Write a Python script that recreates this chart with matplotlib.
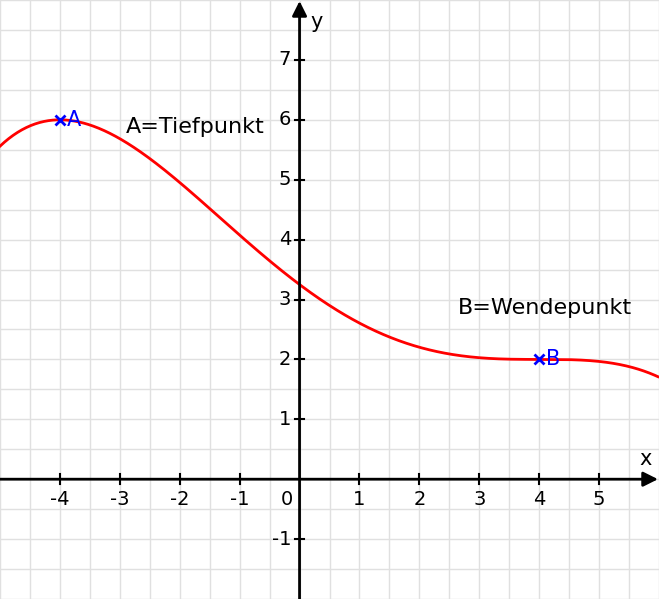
import numpy as np
import matplotlib.pyplot as plt

# f(x) as polynomial coefficients (highest power first):
# maximum at (-4, 6), saddle / Wendepunkt at (4, 2)
coeffs = [-3 / 1024, 1 / 64, 3 / 32, -0.75, 3.25]

# special points
point_names = ["A", "B"]
point_x = [-4, 4]
point_y = [6, 2]

# annotations
notes = ["A=Tiefpunkt", "B=Wendepunkt"]
note_x = [-2.9, 2.65]
note_y = [5.88, 2.85]

x_ticks = [-4, -3, -2, -1, 1, 2, 3, 4, 5]
y_ticks = [-1, 1, 2, 3, 4, 5, 6, 7]

xmin, xmax = -5.0, 5.983
ymin, ymax = -2.0, 7.983

fig = plt.figure(figsize=(6.59, 5.99), dpi=100)
ax = fig.add_axes([0, 0, 1, 1])
ax.set_xlim(xmin, xmax)
ax.set_ylim(ymin, ymax)

# light grid every 0.5 units
ax.set_xticks(np.arange(-5, 6.01, 0.5))
ax.set_yticks(np.arange(-2, 8.01, 0.5))
ax.grid(color="#e0e0e0", linewidth=1)
ax.tick_params(length=0, labelbottom=False, labelleft=False)
for s in ax.spines.values():
    s.set_visible(False)

# axes with arrows
arrow = dict(arrowstyle="-|>", mutation_scale=22, lw=2, color="black",
             shrinkA=0, shrinkB=0)
ax.annotate("", xy=(xmax, 0), xytext=(xmin, 0), arrowprops=arrow)
ax.annotate("", xy=(0, ymax), xytext=(0, ymin), arrowprops=arrow)
ax.annotate("x", xy=(xmax, 0), xytext=(-9, 7), textcoords="offset points",
            ha="center", va="bottom", fontsize=15)
ax.annotate("y", xy=(0, ymax), xytext=(12, -8), textcoords="offset points",
            ha="center", va="top", fontsize=15)

# tick marks and labels
tick_len = 0.08
for t in x_ticks:
    ax.plot([t, t], [-tick_len, tick_len], color="black", lw=1.5)
    ax.annotate(str(t), xy=(t, 0), xytext=(0, -8), textcoords="offset points",
                ha="center", va="top", fontsize=14)
for t in y_ticks:
    ax.plot([-tick_len, tick_len], [t, t], color="black", lw=1.5)
    ax.annotate(str(t), xy=(0, t), xytext=(-6, 0), textcoords="offset points",
                ha="right", va="center", fontsize=14)
ax.annotate("0", xy=(0, 0), xytext=(-9, -8), textcoords="offset points",
            ha="center", va="top", fontsize=14)

# the function
xs = np.linspace(xmin, xmax, 600)
ax.plot(xs, np.polyval(coeffs, xs), color="red", lw=2)

# marked points
ax.plot(point_x, point_y, "x", color="blue", ms=7, mew=2)
for name, px, py in zip(point_names, point_x, point_y):
    ax.annotate(name, xy=(px, py), xytext=(5, 0), textcoords="offset points",
                ha="left", va="center", fontsize=15, color="blue")

for txt, tx, ty in zip(notes, note_x, note_y):
    ax.text(tx, ty, txt, ha="left", va="center", fontsize=16)

fig.savefig("out.png", dpi=100)
